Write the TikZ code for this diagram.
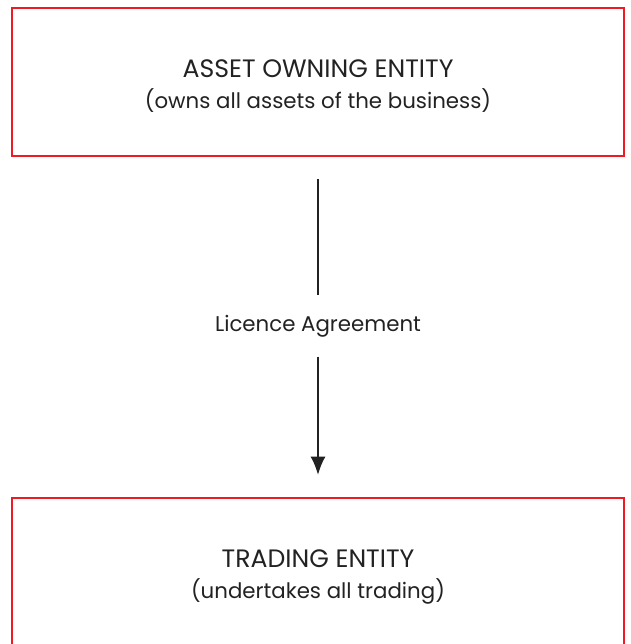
\documentclass[tikz,border=0pt]{standalone}
\usepackage{fontspec}
\setmainfont{Poppins}
\usepackage{tikz}
\usetikzlibrary{arrows.meta}
\definecolor{boxred}{RGB}{237,28,36}
\definecolor{inkgrey}{RGB}{34,34,34}

\tikzset{
	entity/.style={draw=boxred, line width=1.7pt, minimum width=18.36cm, minimum height=4.44cm, align=center, text=inkgrey, inner sep=0pt},
	title/.style={font=\fontsize{21.5}{26}\selectfont},
	sub/.style={font=\fontsize{18.2}{22}\selectfont},
	link/.style={line width=1.7pt, inkgrey}
}

\begin{document}
\begin{tikzpicture}[x=0.03cm, y=-0.03cm]
				\useasboundingbox (0,0) rectangle (630,644);
				
				\node [entity] (owner) at (318,82) {};
				\node [title, text=inkgrey] (ownertitle) at (318,69) {ASSET OWNING ENTITY};
				\node [sub, text=inkgrey] (ownersub) at (318,101) {(owns all assets of the business)};
				
				\node [entity] (trader) at (318,572) {};
				\node [title, text=inkgrey] (tradertitle) at (318,559) {TRADING ENTITY};
				\node [sub, text=inkgrey] (tradersub) at (318,591) {(undertakes all trading)};
				
				\node [sub, text=inkgrey, minimum height=1.83cm] (licence) at (318,326) {Licence Agreement};
				
				\draw [link, shorten <=0.66cm] (owner.south) -- (licence.north);
				\draw [link, -{Latex[length=0.55cm, width=0.45cm]}, shorten >=0.66cm] (licence.south) -- (trader.north);
			
			\end{tikzpicture}
\end{document}
